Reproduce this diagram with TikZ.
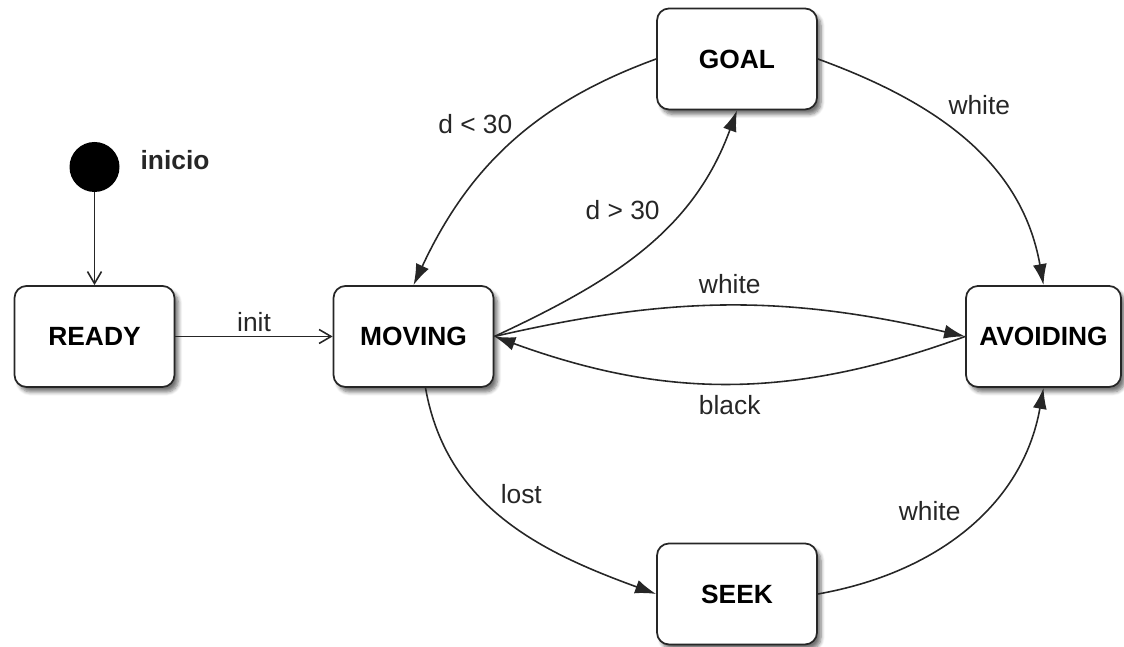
\documentclass[tikz,border=0pt]{standalone}
\usepackage{fontspec}
\setmainfont{Liberation Sans}
\usetikzlibrary{arrows.meta,shadows.blur}

\begin{document}
\begin{tikzpicture}[>={Latex[length=0.42cm,width=0.28cm]},
  estado/.style={draw=black!85, rectangle, rounded corners=0.24cm, line width=1pt, fill=white,
    minimum width=3.2cm, minimum height=2.02cm, font=\fontsize{15}{18}\selectfont\bfseries,
    blur shadow={shadow blur steps=6, shadow xshift=0.08cm, shadow yshift=-0.1cm, shadow opacity=55}},
  rotulo/.style={font=\fontsize{15}{18}\selectfont, text=black!85},
  seta/.style={->, line width=0.9pt, draw=black!85},
  aberta/.style={-{Straight Barb[length=0.24cm,width=0.28cm]}, line width=0.9pt, draw=black!85}]
\useasboundingbox (0,0) rectangle (22.48,12.94);

% estado inicial
\node[circle, fill=black, minimum size=1cm, inner sep=0pt] (ini) at (1.89,9.6) {};
\node[font=\fontsize{15}{18}\selectfont\bfseries, text=black!85] (lbini) at (3.5,9.74) {inicio};

% estados
\node[estado] (ready) at (1.89,6.21) {READY};
\node[estado] (moving) at (8.27,6.21) {MOVING};
\node[estado] (goal) at (14.74,11.76) {GOAL};
\node[estado, minimum width=3.1cm] (avoiding) at (20.87,6.21) {AVOIDING};
\node[estado] (seek) at (14.74,1.06) {SEEK};

% transicoes
\draw[aberta] (ini) -- (ready);
\draw[aberta] (ready) -- node[rotulo, above, inner sep=2pt] {init} (moving);
\draw[seta] (goal.west) to[out=200, in=65] node[rotulo, left=0.3cm, pos=0.4] {d < 30} (moving.north);
\draw[seta] (moving.east) to[out=25, in=-110] node[rotulo, above left, pos=0.6] {d > 30} (goal.south);
\draw[seta] (goal.east) to[out=-20, in=100] node[rotulo, above right, pos=0.4] {white} (avoiding.north);
\draw[seta] (moving.east) to[bend left=13] node[rotulo, above=0.1cm] {white} (avoiding.west);
\draw[seta] (avoiding.west) to[bend left=20] node[rotulo, below=0.1cm] {black} (moving.east);
\draw[seta] ([xshift=0.24cm]moving.south) to[out=-80, in=160] node[rotulo, above right, pos=0.45] {lost} (seek.west);
\draw[seta] (seek.east) to[out=10, in=-100] node[rotulo, above left, pos=0.5] {white} (avoiding.south);
\end{tikzpicture}
\end{document}
